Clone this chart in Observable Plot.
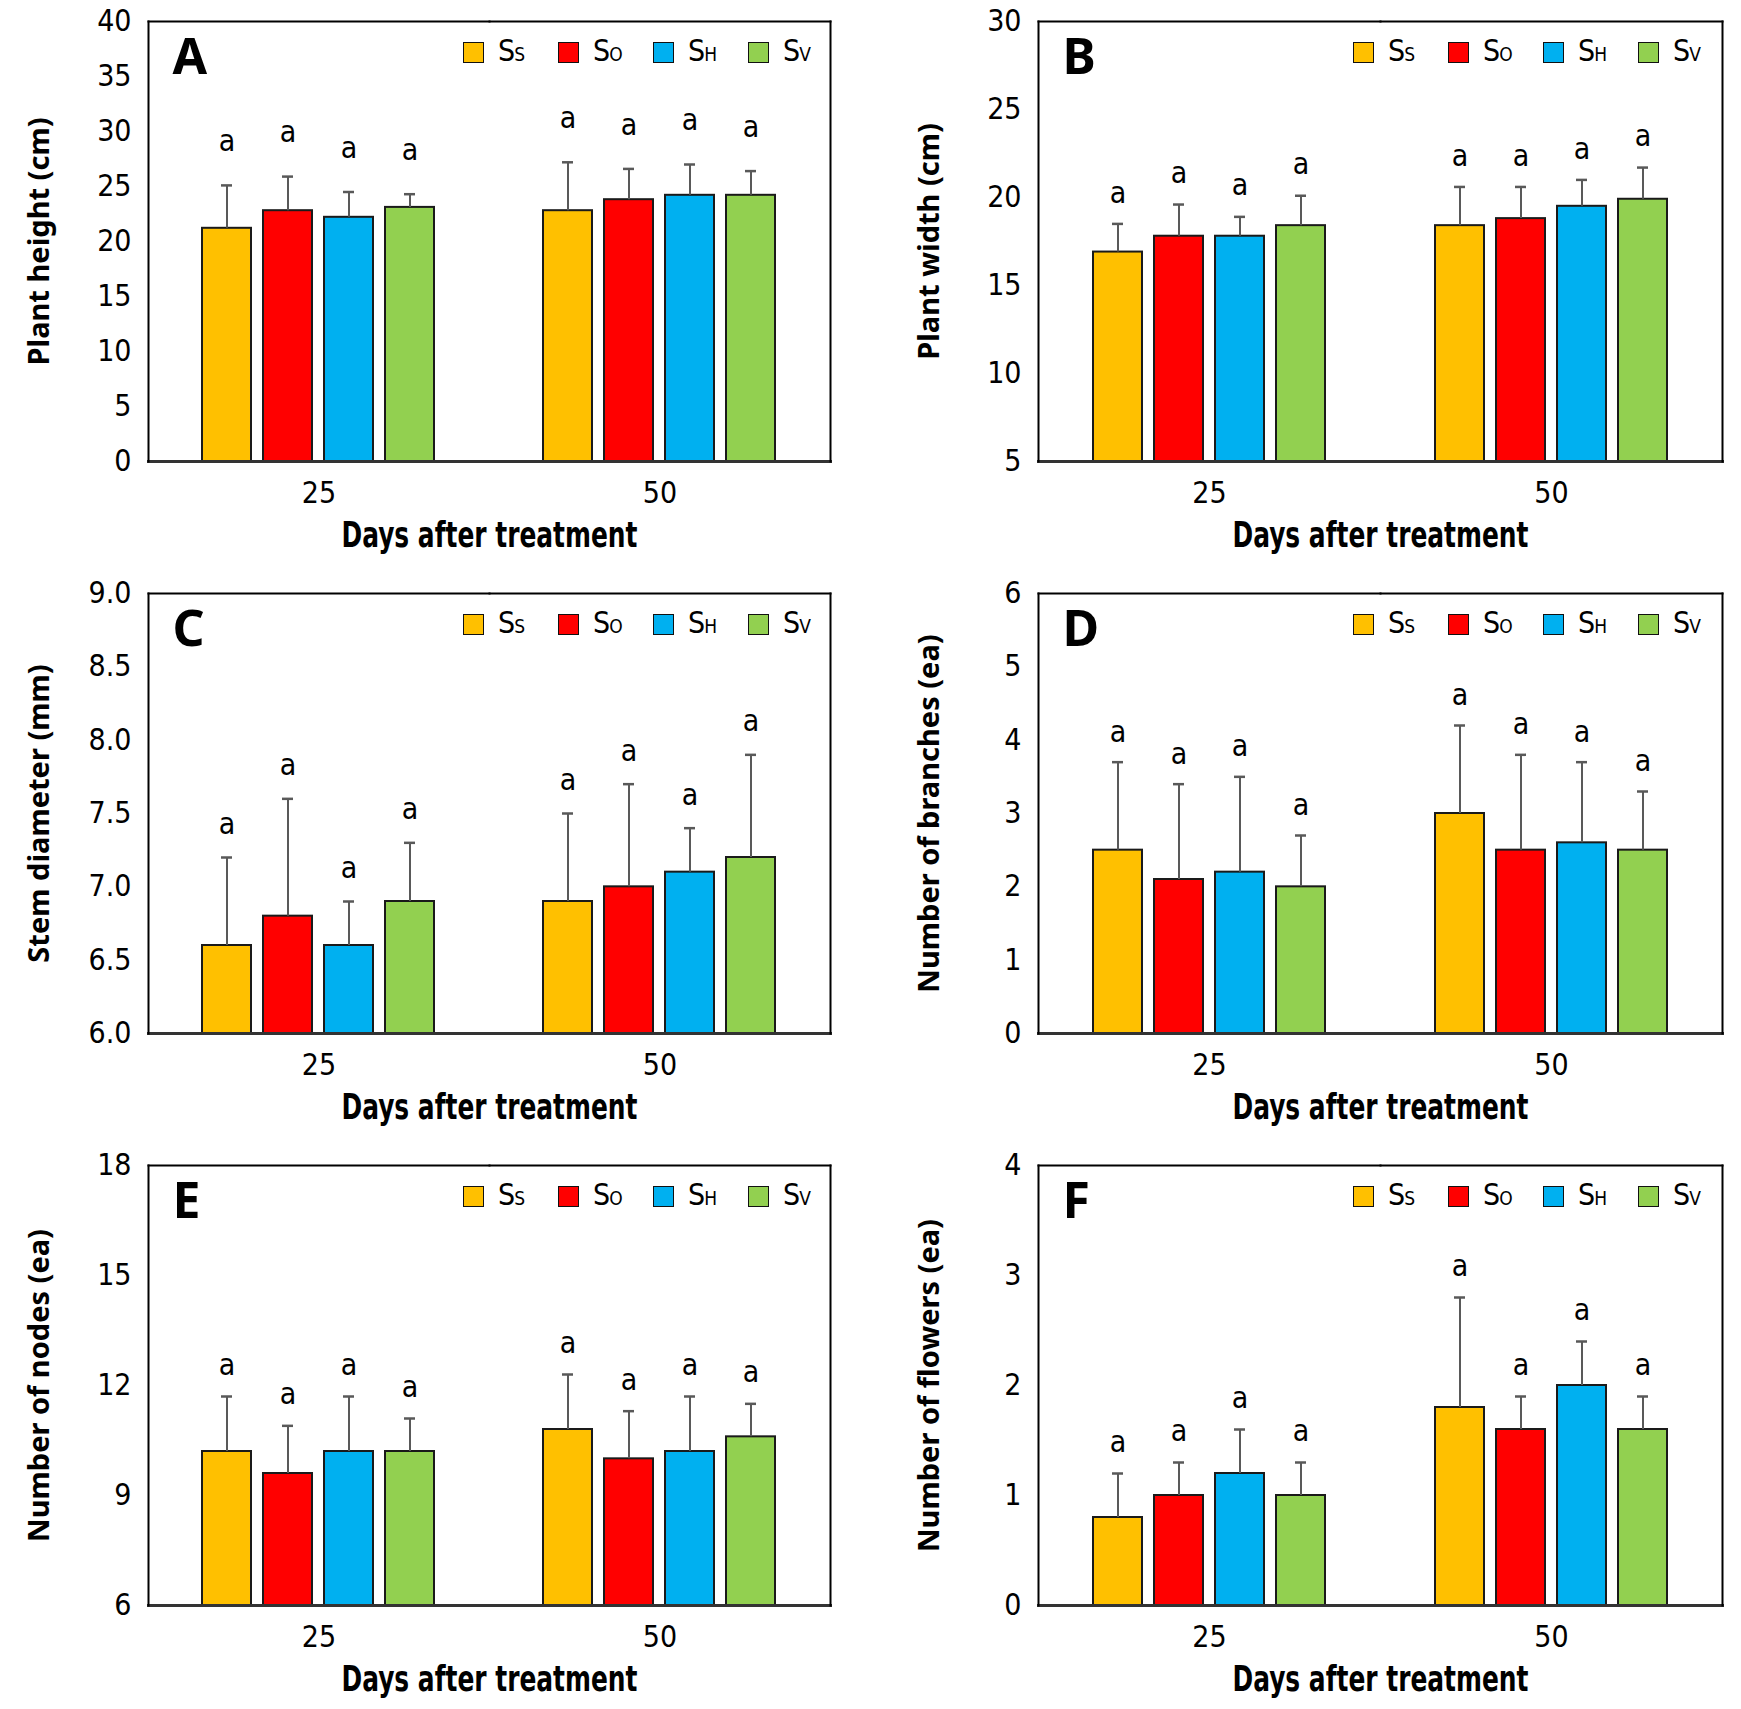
<!DOCTYPE html>
<html><head><meta charset="utf-8">
<script src="https://cdn.jsdelivr.net/npm/d3@7"></script>
<script src="https://cdn.jsdelivr.net/npm/@observablehq/plot@0.6"></script>
<style>
body{margin:0;background:#fff;}
#wrap{position:relative;width:1741px;height:1709px;overflow:hidden;}
.panel{position:absolute;}
.legend{position:absolute;display:flex;font-family:"Liberation Sans Narrow","DejaVu Sans Condensed",sans-serif;color:#000;}
.item{width:95px;display:flex;align-items:center;height:23px;}
.sw{width:19px;height:19px;border:1.5px solid #111;margin-right:14px;flex:none;}
.lab{font-size:30px;line-height:23px;white-space:nowrap;letter-spacing:-1px;}
.lab span{font-size:19px;}
</style></head><body><div id="wrap"></div>
<script>
const days = ["25", "50"];
const treatments = ["Ss", "So", "Sh", "Sv"];
const legendMain = ["S", "S", "S", "S"];
const legendSub = ["S", "O", "H", "V"];
const colors = ["#FFC000", "#FF0000", "#00B0F0", "#92D050"];

// Panel A: Plant height (cm)
const heightMean25 = [21.2, 22.8, 22.2, 23.1];
const heightSd25 = [3.9, 3.1, 2.3, 1.2];
const heightMean50 = [22.8, 23.8, 24.2, 24.2];
const heightSd50 = [4.4, 2.8, 2.8, 2.2];
// Panel B: Plant width (cm)
const widthMean25 = [16.9, 17.8, 17.8, 18.4];
const widthSd25 = [1.6, 1.8, 1.1, 1.7];
const widthMean50 = [18.4, 18.8, 19.5, 19.9];
const widthSd50 = [2.2, 1.8, 1.5, 1.8];
// Panel C: Stem diameter (mm)
const stemMean25 = [6.6, 6.8, 6.6, 6.9];
const stemSd25 = [0.6, 0.8, 0.3, 0.4];
const stemMean50 = [6.9, 7.0, 7.1, 7.2];
const stemSd50 = [0.6, 0.7, 0.3, 0.7];
// Panel D: Number of branches (ea)
const branchMean25 = [2.5, 2.1, 2.2, 2.0];
const branchSd25 = [1.2, 1.3, 1.3, 0.7];
const branchMean50 = [3.0, 2.5, 2.6, 2.5];
const branchSd50 = [1.2, 1.3, 1.1, 0.8];
// Panel E: Number of nodes (ea)
const nodeMean25 = [10.2, 9.6, 10.2, 10.2];
const nodeSd25 = [1.5, 1.3, 1.5, 0.9];
const nodeMean50 = [10.8, 10.0, 10.2, 10.6];
const nodeSd50 = [1.5, 1.3, 1.5, 0.9];
// Panel F: Number of flowers (ea)
const flowerMean25 = [0.8, 1.0, 1.2, 1.0];
const flowerSd25 = [0.4, 0.3, 0.4, 0.3];
const flowerMean50 = [1.8, 1.6, 2.0, 1.6];
const flowerSd50 = [1.0, 0.3, 0.4, 0.3];

const letters = ["a", "a", "a", "a"];

const ticksA = [0, 5, 10, 15, 20, 25, 30, 35, 40];
const ticksB = [5, 10, 15, 20, 25, 30];
const ticksC = [6.0, 6.5, 7.0, 7.5, 8.0, 8.5, 9.0];
const ticksD = [0, 1, 2, 3, 4, 5, 6];
const ticksE = [6, 9, 12, 15, 18];
const ticksF = [0, 1, 2, 3, 4];

const xTitle = "Days after treatment";

const panels = [
  {id: "A", label: "Plant height (cm)", means: [heightMean25, heightMean50], sds: [heightSd25, heightSd50], ticks: ticksA, fmt: d3.format("d"), gap: 44},
  {id: "B", label: "Plant width (cm)", means: [widthMean25, widthMean50], sds: [widthSd25, widthSd50], ticks: ticksB, fmt: d3.format("d"), gap: 31},
  {id: "C", label: "Stem diameter (mm)", means: [stemMean25, stemMean50], sds: [stemSd25, stemSd50], ticks: ticksC, fmt: d3.format(".1f"), gap: 33},
  {id: "D", label: "Number of branches (ea)", means: [branchMean25, branchMean50], sds: [branchSd25, branchSd50], ticks: ticksD, fmt: d3.format("d"), gap: 30},
  {id: "E", label: "Number of nodes (ea)", means: [nodeMean25, nodeMean50], sds: [nodeSd25, nodeSd50], ticks: ticksE, fmt: d3.format("d"), gap: 31},
  {id: "F", label: "Number of flowers (ea)", means: [flowerMean25, flowerMean50], sds: [flowerSd25, flowerSd50], ticks: ticksF, fmt: d3.format("d"), gap: 31}
];

const narrow = '"Liberation Sans Narrow","DejaVu Sans Condensed",sans-serif';
const bold = '"Noto Sans","Open Sans",sans-serif';
const wrap = document.getElementById("wrap");

panels.forEach((cfg, k) => {
  const col = k % 2, row = Math.floor(k / 2);
  const W = col === 0 ? 870 : 871;
  const ml = col === 0 ? 148 : 168;
  const mr = col === 0 ? 40 : 19;
  const mt = 21, mb = 111, H = 572;
  const rows = [];
  days.forEach((d, j) => treatments.forEach((t, i) => {
    rows.push({day: d, trt: t, mean: cfg.means[j][i], top: cfg.means[j][i] + cfg.sds[j][i], letter: letters[i]});
  }));
  const dom = [cfg.ticks[0], cfg.ticks[cfg.ticks.length - 1]];
  const first = [{day: days[0]}];
  const plot = Plot.plot({
    width: W, height: H, marginLeft: ml, marginRight: mr, marginTop: mt, marginBottom: mb,
    style: {fontFamily: narrow, fontSize: "30px", color: "#000", background: "#fff", overflow: "visible"},
    fx: {domain: days, padding: 0},
    x: {domain: treatments, paddingInner: 0.19, paddingOuter: 0.865, axis: null},
    y: {domain: dom},
    color: {domain: treatments, range: colors},
    marks: [
      Plot.barY(rows, {fx: "day", x: "trt", y1: dom[0], y2: "mean", fill: "trt", stroke: "#1a1a1a", strokeWidth: 2}),
      Plot.ruleX(rows, {fx: "day", x: "trt", y1: "mean", y2: "top", stroke: "#595959", strokeWidth: 2}),
      Plot.tickY(rows, {fx: "day", x: "trt", y: "top", stroke: "#595959", strokeWidth: 2.5, insetLeft: 19, insetRight: 19}),
      Plot.text(rows, {fx: "day", x: "trt", y: "top", text: "letter", dy: -cfg.gap, fontSize: 30, fontFamily: narrow}),
      Plot.frame({anchor: "top", stroke: "#000", strokeWidth: 2}),
      Plot.frame({anchor: "bottom", stroke: "#333", strokeWidth: 3}),
      Plot.frame({anchor: "left", facetAnchor: "left", stroke: "#000", strokeWidth: 2}),
      Plot.frame({anchor: "right", facetAnchor: "right", stroke: "#000", strokeWidth: 2}),
      Plot.axisY({ticks: cfg.ticks, tickFormat: cfg.fmt, tickSize: 0, tickPadding: 17, fontSize: 30, label: null}),
      Plot.axisFx({anchor: "bottom", tickSize: 0, tickPadding: 20, fontSize: 30, label: null}),
      Plot.text(first, {fx: "day", frameAnchor: "top-left", text: () => cfg.id, dx: 24, dy: 17, lineAnchor: "top", textAnchor: "start", fontSize: 50, fontWeight: 700, fontFamily: bold}),
      Plot.text(first, {fx: "day", frameAnchor: "bottom-right", text: () => xTitle, dy: 74, textAnchor: "middle", lineAnchor: "middle", fontSize: 35, fontWeight: 700, fontFamily: narrow}),
      Plot.text(first, {fx: "day", frameAnchor: "left", text: () => cfg.label, dx: -109, rotate: -90, textAnchor: "middle", lineAnchor: "middle", fontSize: 29, fontWeight: 700, fontFamily: bold})
    ]
  });
  // condense the x title to the reference's narrow lettering
  plot.querySelectorAll("text").forEach(t => {
    if (t.textContent === xTitle) {
      t.setAttribute("textLength", 296);
      t.setAttribute("lengthAdjust", "spacingAndGlyphs");
    }
  });
  const div = document.createElement("div");
  div.className = "panel";
  div.style.left = (col * 870) + "px";
  div.style.top = (row * H) + "px";
  div.style.width = W + "px";
  div.style.height = H + "px";
  div.appendChild(plot);
  const leg = document.createElement("div");
  leg.className = "legend";
  leg.style.left = (ml + 315) + "px";
  leg.style.top = (mt + 20) + "px";
  treatments.forEach((t, i) => {
    const it = document.createElement("div");
    it.className = "item";
    const sw = document.createElement("div");
    sw.className = "sw";
    sw.style.background = colors[i];
    const lab = document.createElement("div");
    lab.className = "lab";
    lab.innerHTML = legendMain[i] + "<span>" + legendSub[i] + "</span>";
    it.appendChild(sw);
    it.appendChild(lab);
    leg.appendChild(it);
  });
  div.appendChild(leg);
  wrap.appendChild(div);
});
</script>
</body></html>
